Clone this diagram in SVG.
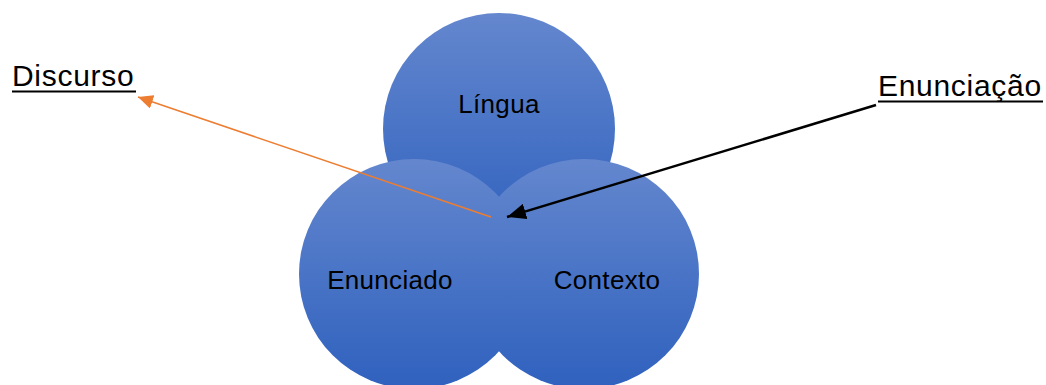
<svg xmlns="http://www.w3.org/2000/svg" width="1046" height="385" viewBox="0 0 1046 385">
  <style>
    .lbl { font-family: "Liberation Sans", Arial, sans-serif; font-size: 26px; letter-spacing: 0.3px; fill: #000; text-anchor: middle; }
    .ext { font-family: "Liberation Sans", Arial, sans-serif; font-size: 30px; letter-spacing: 0.7px; fill: #000; }
    .circ { fill: url(#blueGrad); }
  </style>
  <defs>
    <linearGradient id="blueGrad" x1="0" y1="0" x2="0" y2="1">
      <stop offset="0" stop-color="#6487ce"/>
      <stop offset="1" stop-color="#2f61be"/>
    </linearGradient>
    <marker id="arrOrange" markerUnits="userSpaceOnUse" markerWidth="16" markerHeight="14" refX="15" refY="7" orient="auto">
      <path d="M0,0 L15,7 L0,14 Z" fill="#ed7d31"/>
    </marker>
    <marker id="arrBlack" markerUnits="userSpaceOnUse" markerWidth="20" markerHeight="16" refX="19" refY="8" orient="auto">
      <path d="M0,0 L19,8 L0,16 Z" fill="#000"/>
    </marker>
  </defs>

  <g id="node-lingua">
    <circle class="circ" cx="499" cy="129" r="116"/>
    <text class="lbl" x="499" y="113">Língua</text>
  </g>
  <g id="node-enunciado">
    <circle class="circ" cx="414" cy="274" r="115"/>
  </g>
  <g id="node-contexto">
    <circle class="circ" cx="584" cy="274" r="115"/>
  </g>
  <g id="labels-lower">
    <text class="lbl" x="390" y="289">Enunciado</text>
    <text class="lbl" x="607" y="289">Contexto</text>
  </g>

  <g id="node-discurso">
    <text class="ext" x="12" y="86">Discurso</text>
    <line x1="12" y1="91.5" x2="136" y2="91.5" stroke="#000" stroke-width="2"/>
  </g>
  <g id="node-enunciacao">
    <text class="ext" x="878" y="96">Enunciação</text>
    <line x1="878" y1="101.5" x2="1043" y2="101.5" stroke="#000" stroke-width="2"/>
  </g>

  <g id="connectors">
    <line x1="491" y1="217" x2="138" y2="97" stroke="#ed7d31" stroke-width="1.5" marker-end="url(#arrOrange)"/>
    <line x1="876" y1="105" x2="507" y2="217" stroke="#000" stroke-width="2.5" marker-end="url(#arrBlack)"/>
  </g>
</svg>
